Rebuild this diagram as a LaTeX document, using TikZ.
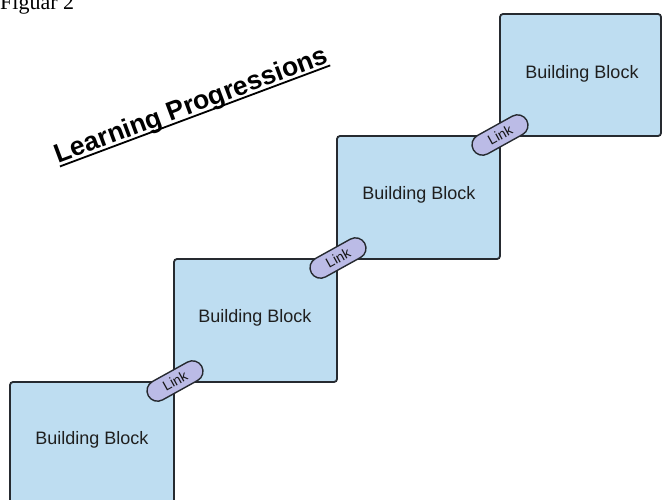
\documentclass[tikz,border=0pt]{standalone}
\usepackage{fontspec}
\setmainfont{Liberation Sans}
\newfontfamily\capfont{Liberation Serif}
\usetikzlibrary{shapes.misc}
\definecolor{blockfill}{HTML}{BEDDF1}
\definecolor{linkfill}{HTML}{BBBBE6}
\definecolor{edge}{HTML}{262A30}
\newcommand{\myul}[1]{\setbox0\hbox{#1}\rlap{\rule[-4pt]{\wd0}{1.8pt}}\box0}
\tikzset{
  block/.style={draw=edge, line width=1.8pt, fill=blockfill, rounded corners=3pt},
  blocklabel/.style={font=\fontsize{18}{21}\selectfont, text=black!88},
  linkpill/.style={draw=edge, line width=1.4pt, fill=linkfill, rounded rectangle, minimum width=61pt, minimum height=21pt, inner sep=0pt, rotate=29, font=\fontsize{14}{16}\selectfont, text=black!92},
}
\begin{document}
\begin{tikzpicture}[x=1pt,y=-1pt]
\useasboundingbox (0,0) rectangle (663,499);
\clip (0,0) rectangle (663,499);
\node[anchor=base west, inner sep=0pt, font=\capfont\fontsize{22}{24}\selectfont] (fig) at (0,9) {Figuar 2};
\node[anchor=base, inner sep=0pt, rotate=20.5, font=\bfseries\fontsize{26.5}{28}\selectfont] (title) at (194,113) {\myul{Learning Progressions}};
\draw[block] (10,382) rectangle (174,520);
\draw[block] (174,259) rectangle (337,382);
\draw[block] (337,136) rectangle (500,259);
\draw[block] (500,14) rectangle (661,136);
\node[blocklabel] (b1) at (92,440) {Building Block};
\node[blocklabel] (b2) at (255,318) {Building Block};
\node[blocklabel] (b3) at (419,195) {Building Block};
\node[blocklabel] (b4) at (582,74) {Building Block};
\node[linkpill] (l1) at (175,381) {Link};
\node[linkpill] (l2) at (338,258) {Link};
\node[linkpill] (l3) at (500,135) {Link};
\end{tikzpicture}
\end{document}
